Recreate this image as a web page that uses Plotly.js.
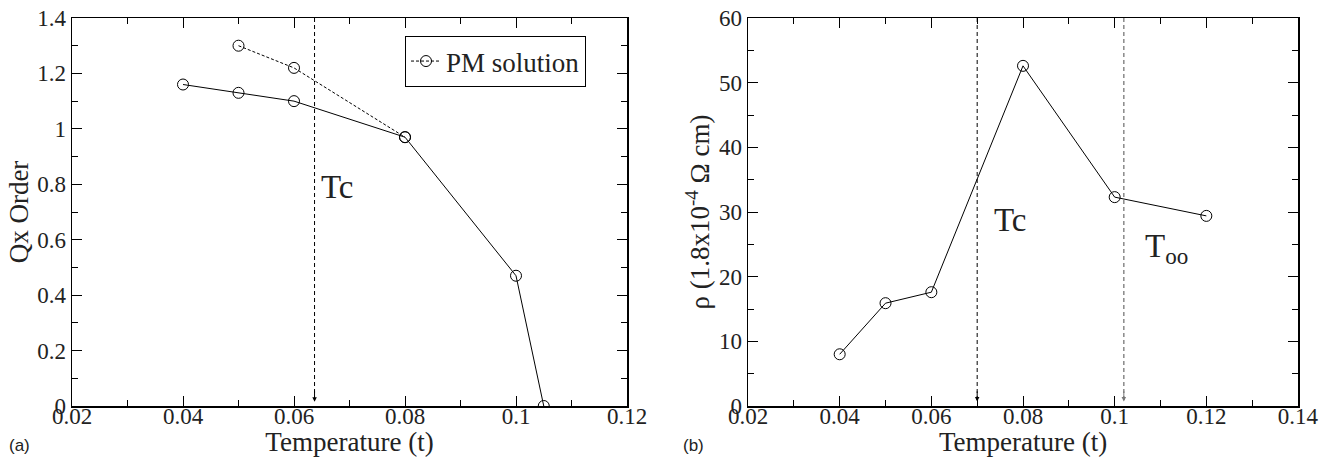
<!DOCTYPE html>
<html>
<head>
<meta charset="utf-8">
<script src="https://cdn.plot.ly/plotly-3.0.1.min.js"></script>
<style>html,body{margin:0;padding:0;background:#fff;}#chart{width:1337px;height:457px;}</style>
</head>
<body>
<div id="chart"></div>
<script>
// Panel (a): Qx order vs temperature
const tempA = [0.04, 0.05, 0.06, 0.08, 0.10, 0.105];
const qxOrder = [1.16, 1.13, 1.10, 0.97, 0.47, 0.0];
const tempPM = [0.05, 0.06, 0.08];
const qxPM = [1.30, 1.22, 0.97];
const tcA = 0.0637;

// Panel (b): resistivity vs temperature
const tempB = [0.04, 0.05, 0.06, 0.08, 0.10, 0.12];
const rho = [8.0, 15.9, 17.6, 52.6, 32.3, 29.4];
const tcB = 0.070;
const tooB = 0.102;

const serif = 'Liberation Serif';
const black = '#000';
const txt = '#222';

const mk = {symbol: 'circle-open', size: 11, color: black, line: {width: 1, color: black}};
const traces = [
  {x: tempA, y: qxOrder, xaxis: 'x', yaxis: 'y', mode: 'lines+markers', showlegend: false,
   line: {color: black, width: 1}, marker: mk},
  {x: tempPM, y: qxPM, xaxis: 'x', yaxis: 'y', mode: 'lines+markers', name: 'PM solution',
   line: {color: black, width: 1, dash: '3px,2px'}, marker: mk},
  {x: tempB, y: rho, xaxis: 'x2', yaxis: 'y2', mode: 'lines+markers', showlegend: false,
   line: {color: black, width: 1}, marker: mk}
];

function axisBase(extra) {
  return Object.assign({
    showline: true, linecolor: black, linewidth: 1.5, mirror: 'allticks',
    ticks: 'inside', ticklen: 10, tickwidth: 1, tickcolor: black,
    showgrid: false, zeroline: false,
    tickfont: {family: serif, size: 23, color: txt},
    automargin: false
  }, extra);
}
const minorX = {dtick: 0.01, ticklen: 6, ticks: 'inside', tickcolor: black, tickwidth: 1};
const titleFont = {family: serif, size: 27, color: txt};

const layout = {
  width: 1337, height: 457,
  font: {family: serif, size: 23, color: txt},
  margin: {l: 72, r: 39, t: 18, b: 51},
  paper_bgcolor: '#fff', plot_bgcolor: '#fff',
  xaxis: axisBase({domain: [0, 0.4527], range: [0.02, 0.12], dtick: 0.02, tick0: 0.02,
    minor: minorX, ticklabelstandoff: -11,
    title: {text: 'Temperature (t)', font: titleFont, standoff: 16},
    anchor: 'y'}),
  yaxis: axisBase({domain: [0, 1], range: [0, 1.4], dtick: 0.2, tick0: 0,
    minor: {dtick: 0.1, ticklen: 6, ticks: 'inside', tickcolor: black, tickwidth: 1},
    title: {text: 'Qx Order', font: titleFont, standoff: 0},
    anchor: 'x'}),
  xaxis2: axisBase({domain: [0.5514, 1], range: [0.02, 0.14], dtick: 0.02, tick0: 0.02,
    minor: minorX, ticklabelstandoff: -11,
    title: {text: 'Temperature (t)', font: titleFont, standoff: 16},
    anchor: 'y2'}),
  yaxis2: axisBase({domain: [0, 1], range: [0, 60], dtick: 10, tick0: 0,
    minor: {dtick: 5, ticklen: 6, ticks: 'inside', tickcolor: black, tickwidth: 1},
    title: {text: 'ρ (1.8x10<sup>-4</sup> Ω cm)', font: titleFont, standoff: 1},
    anchor: 'x2'}),
  showlegend: true,
  legend: {x: (405 - 72) / 1226, y: 1 - (36 - 18) / 388, xanchor: 'left', yanchor: 'top',
    bordercolor: black, borderwidth: 1, bgcolor: '#fff',
    font: {family: serif, size: 27, color: txt}, itemwidth: 30,
    tracegroupgap: 0},
  shapes: [
    {type: 'line', xref: 'x', yref: 'y', x0: tcA, x1: tcA, y0: 1.4, y1: 0.02,
     line: {color: black, width: 1, dash: '4px,3px'}},
    {type: 'line', xref: 'x2', yref: 'y2', x0: tcB, x1: tcB, y0: 60, y1: 0.9,
     line: {color: black, width: 1, dash: '4px,3px'}},
    {type: 'line', xref: 'x2', yref: 'y2', x0: tooB, x1: tooB, y0: 60, y1: 0.9,
     line: {color: '#777', width: 1.3, dash: '4px,3px'}}
  ],
  annotations: [
    {xref: 'x', yref: 'y', x: tcA, y: 0.015, ax: tcA, ay: 0.06, axref: 'x', ayref: 'y',
     showarrow: true, arrowhead: 2, arrowsize: 0.9, arrowwidth: 1, arrowcolor: black, text: ''},
    {xref: 'x2', yref: 'y2', x: tcB, y: 0.7, ax: tcB, ay: 2.5, axref: 'x2', ayref: 'y2',
     showarrow: true, arrowhead: 2, arrowsize: 0.9, arrowwidth: 1, arrowcolor: black, text: ''},
    {xref: 'x2', yref: 'y2', x: tooB, y: 0.7, ax: tooB, ay: 2.5, axref: 'x2', ayref: 'y2',
     showarrow: true, arrowhead: 2, arrowsize: 0.9, arrowwidth: 1, arrowcolor: '#777', text: ''},
    {xref: 'x', yref: 'y', x: 0.0645, y: 0.79, xanchor: 'left', yanchor: 'middle', showarrow: false,
     text: 'Tc', font: {family: serif, size: 33, color: txt}},
    {xref: 'x2', yref: 'y2', x: 0.0732, y: 28.8, xanchor: 'left', yanchor: 'middle', showarrow: false,
     text: 'Tc', font: {family: serif, size: 33, color: txt}},
    {xref: 'x2', yref: 'y2', x: 0.1062, y: 24.4, xanchor: 'left', yanchor: 'top', showarrow: false,
     text: 'T<sub>oo</sub>', font: {family: serif, size: 33, color: txt}, yshift: 22},
    {xref: 'paper', yref: 'paper', x: -52 / 1226, y: -39 / 388, xanchor: 'center', yanchor: 'middle', showarrow: false,
     text: '(a)', font: {family: 'Liberation Sans', size: 17, color: txt}},
    {xref: 'paper', yref: 'paper', x: (693 - 72) / 1226, y: -39 / 388, xanchor: 'center', yanchor: 'middle', showarrow: false,
     text: '(b)', font: {family: 'Liberation Sans', size: 17, color: txt}}
  ]
};

Plotly.newPlot('chart', traces, layout, {displayModeBar: false, staticPlot: true});
</script>
</body>
</html>
